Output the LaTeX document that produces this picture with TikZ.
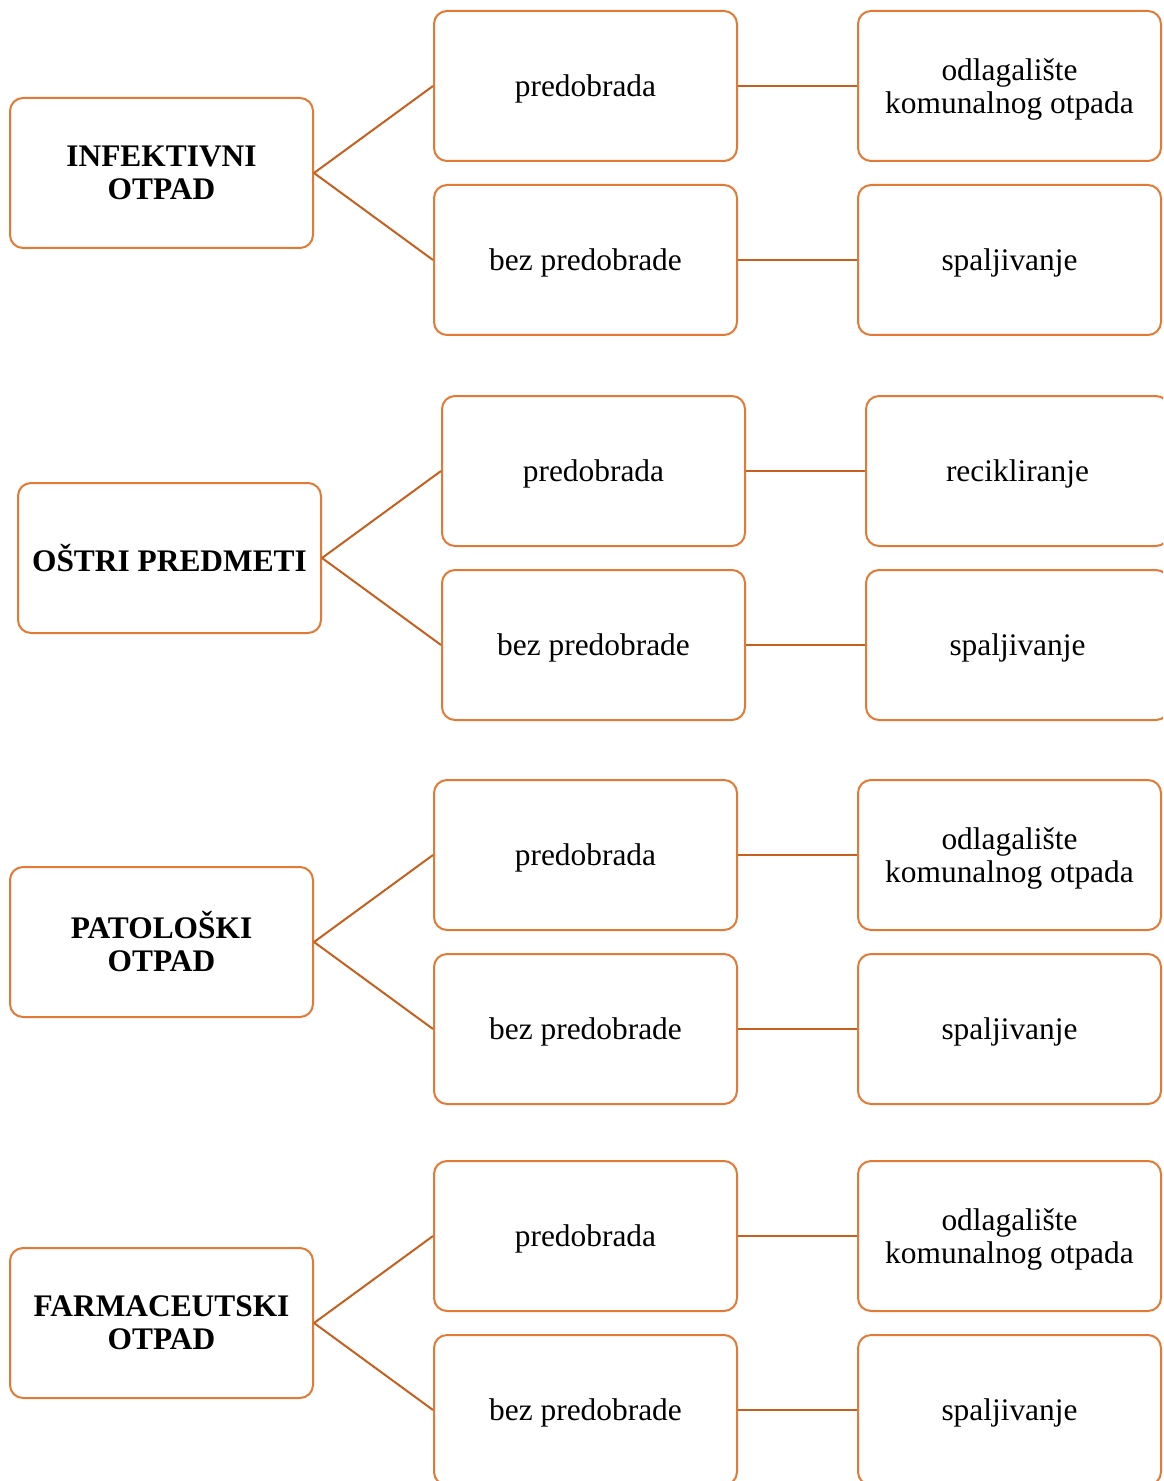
\documentclass[tikz,border=0pt]{standalone}
\usepackage{fontspec}
\setmainfont{Liberation Serif}
\usetikzlibrary{calc}
\definecolor{boxorange}{RGB}{226,122,54}
\definecolor{lineorange}{RGB}{197,96,30}

\begin{document}
\begin{tikzpicture}[x=0.5pt, y=-0.5pt]

\pgfmathsetlengthmacro{\width}{151.5pt}
\pgfmathsetlengthmacro{\height}{75pt}
\pgfmathsetlengthmacro{\colShift}{212pt}
\pgfmathsetlengthmacro{\rowShift}{43.5pt}
\tikzset{
  frame/.style={draw=boxorange, line width=1pt, rounded corners=6.5pt, minimum width=\width, minimum height=\height, inner sep=2pt, align=center},
  box/.style={frame, text depth=0pt, font=\fontsize{15.7}{16.5}\selectfont},
  head/.style={frame, font=\fontsize{15.7}{16.5}\selectfont\bfseries},
  link/.style={draw=lineorange, line width=1pt},
}

\useasboundingbox (0,0) rectangle (1163,1481);
\clip (0,0) rectangle (1163,1481);

% infektivni otpad
\node[head, name=inf] at (161.5,173) {INFEKTIVNI\\OTPAD};
  \node[box, name=infPre] at ($(inf)+(\colShift,\rowShift)$) {predobrada};
  \node[box, name=infBez] at ($(inf)+(\colShift,-\rowShift)$) {bez predobrade};
  \node[box, name=infPreEnd] at ($(infPre)+(\colShift,0)$) {odlagalište\\komunalnog otpada};
  \node[box, name=infBezEnd] at ($(infBez)+(\colShift,0)$) {spaljivanje};
\draw[link] (inf.east) -- (infPre.west);
\draw[link] (inf.east) -- (infBez.west);
\draw[link] (infPre.east) -- (infPreEnd.west);
\draw[link] (infBez.east) -- (infBezEnd.west);

% ostri predmeti
\node[head, name=ost] at (169.5,558) {OŠTRI PREDMETI};
  \node[box, name=ostPre] at ($(ost)+(\colShift,\rowShift)$) {predobrada};
  \node[box, name=ostBez] at ($(ost)+(\colShift,-\rowShift)$) {bez predobrade};
  \node[box, name=ostPreEnd] at ($(ostPre)+(\colShift,0)$) {recikliranje};
  \node[box, name=ostBezEnd] at ($(ostBez)+(\colShift,0)$) {spaljivanje};
\draw[link] (ost.east) -- (ostPre.west);
\draw[link] (ost.east) -- (ostBez.west);
\draw[link] (ostPre.east) -- (ostPreEnd.west);
\draw[link] (ostBez.east) -- (ostBezEnd.west);

% patoloski otpad
\node[head, name=pat] at (161.5,942) {PATOLOŠKI\\OTPAD};
  \node[box, name=patPre] at ($(pat)+(\colShift,\rowShift)$) {predobrada};
  \node[box, name=patBez] at ($(pat)+(\colShift,-\rowShift)$) {bez predobrade};
  \node[box, name=patPreEnd] at ($(patPre)+(\colShift,0)$) {odlagalište\\komunalnog otpada};
  \node[box, name=patBezEnd] at ($(patBez)+(\colShift,0)$) {spaljivanje};
\draw[link] (pat.east) -- (patPre.west);
\draw[link] (pat.east) -- (patBez.west);
\draw[link] (patPre.east) -- (patPreEnd.west);
\draw[link] (patBez.east) -- (patBezEnd.west);

% farmaceutski otpad
\node[head, name=far] at (161.5,1323) {FARMACEUTSKI\\OTPAD};
  \node[box, name=farPre] at ($(far)+(\colShift,\rowShift)$) {predobrada};
  \node[box, name=farBez] at ($(far)+(\colShift,-\rowShift)$) {bez predobrade};
  \node[box, name=farPreEnd] at ($(farPre)+(\colShift,0)$) {odlagalište\\komunalnog otpada};
  \node[box, name=farBezEnd] at ($(farBez)+(\colShift,0)$) {spaljivanje};
\draw[link] (far.east) -- (farPre.west);
\draw[link] (far.east) -- (farBez.west);
\draw[link] (farPre.east) -- (farPreEnd.west);
\draw[link] (farBez.east) -- (farBezEnd.west);

\end{tikzpicture}
\end{document}
